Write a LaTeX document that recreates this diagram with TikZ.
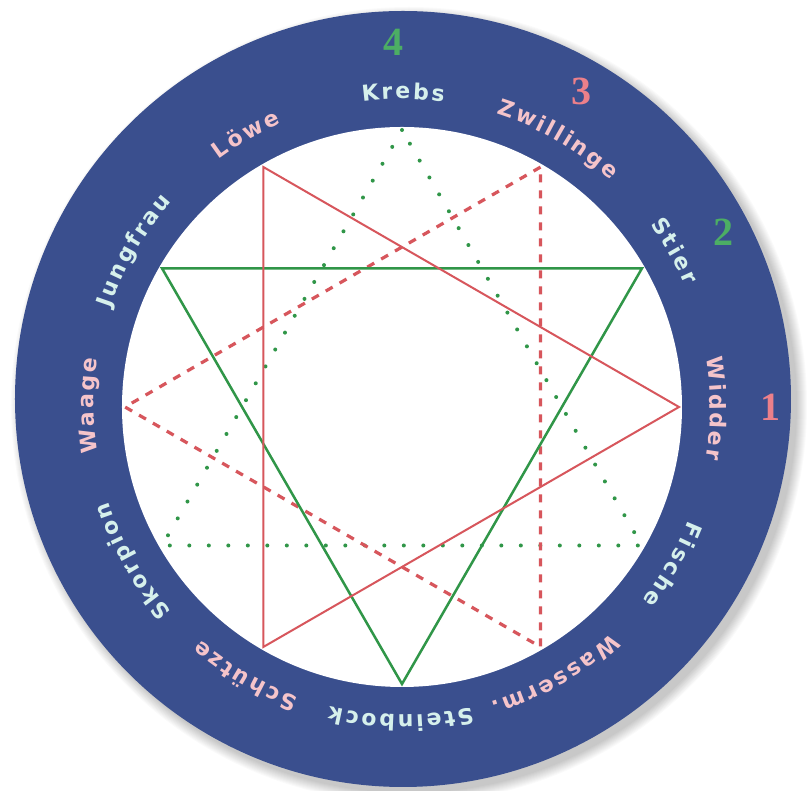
\documentclass[tikz,border=0pt]{standalone}
\usepackage{fontspec}
\usetikzlibrary{decorations.text}

\newfontfamily\signfont{DejaVu Sans}
\newfontfamily\digitfont{Liberation Serif}
\newcommand\numfont{\digitfont\bfseries\fontsize{40}{44}\selectfont}

\definecolor{ringblue}{RGB}{58,79,142}
\definecolor{linered}{RGB}{215,86,92}
\definecolor{linegreen}{RGB}{48,150,72}
\definecolor{pinktext}{RGB}{245,196,202}
\definecolor{tealtext}{RGB}{214,240,236}
\definecolor{numred}{RGB}{236,128,138}
\definecolor{numgreen}{RGB}{76,174,100}

% one sign name, set along the ring, centred on angle #1
\newcommand\zodiac[3]{%
  \path[decorate,decoration={text along path,text align=center,
      text={|\signfont\bfseries\fontsize{22}{26}\selectfont\color{#3}\kern2.5pt|#2}}]
    (#1+50:308) arc[start angle=#1+50,end angle=#1-50,radius=308];}

\begin{document}
\begin{tikzpicture}[
    x=1pt,y=1pt,
    ring/.style={fill=ringblue},
    glow/.style={fill=black,opacity=0.02},
    redline/.style={draw=linered,line width=2pt,line join=miter},
    greenline/.style={draw=linegreen,line width=2.5pt,line join=miter},
    reddash/.style={draw=linered,line width=3.2pt,dash pattern=on 8pt off 8pt},
    greendot/.style={draw=linegreen,line width=4pt,line cap=round,
      dash pattern=on 0pt off 19.5pt},
    number/.style={inner sep=0pt,font=\numfont}]
  \useasboundingbox[fill=white] (-402,-384) rectangle (405,407);

  % soft shadow and the blue ring
  \foreach \k in {0,...,10}
    \fill[glow] (7,2) circle[radius={388+\k}];
  \fill[ring] (1,8) circle[radius=388];
  \fill[white] (0,0) circle[radius=280];

  % twelve corners, one every 30 degrees
  \foreach \i in {0,...,11}
    \coordinate (v\i) at (\i*30:277);

  \draw[greendot] (v3) -- (v7) -- (v11) -- cycle;
  \draw[reddash] (v2) -- (v6) -- (v10) -- cycle;
  \draw[greenline] (v1) -- (v5) -- (v9) -- cycle;
  \draw[redline] (v0) -- (v4) -- (v8) -- cycle;

  % sign names
  \zodiac{0}{Widder}{pinktext}
  \zodiac{30}{Stier}{tealtext}
  \zodiac{60}{Zwillinge}{pinktext}
  \zodiac{90}{Krebs}{tealtext}
  \zodiac{120}{Löwe}{pinktext}
  \zodiac{150}{Jungfrau}{tealtext}
  \zodiac{180}{Waage}{pinktext}
  \zodiac{210}{Skorpion}{tealtext}
  \zodiac{240}{Schütze}{pinktext}
  \zodiac{270}{Steinbock}{tealtext}
  \zodiac{300}{Wasserm.}{pinktext}
  \zodiac{330}{Fische}{tealtext}

  % numbers
  \node[number,text=numred] (one) at (0:369) {1};
  \node[number,text=numgreen] (two) at (28.5:366) {2};
  \node[number,text=numred] (three) at (60.3:363) {3};
  \node[number,text=numgreen] (four) at (91.3:365) {4};
\end{tikzpicture}
\end{document}
